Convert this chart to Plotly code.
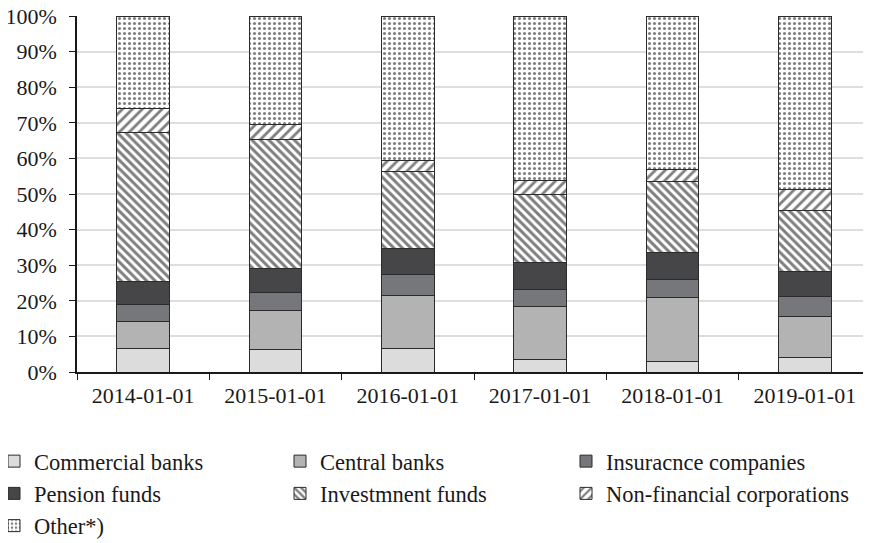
import plotly.graph_objects as go

categories = ["2014-01-01", "2015-01-01", "2016-01-01", "2017-01-01", "2018-01-01", "2019-01-01"]

# cumulative shares (%), bottom to top
cum_commercial = [6.5, 6.4, 6.6, 3.6, 3.0, 4.1]
cum_central = [14.1, 17.4, 21.6, 18.5, 21.0, 15.5]
cum_insurance = [19.0, 22.4, 27.4, 23.2, 26.0, 21.2]
cum_pension = [25.4, 29.1, 34.8, 30.7, 33.7, 28.2]
cum_investment = [67.4, 65.4, 56.3, 49.9, 53.5, 45.5]
cum_nonfin = [73.9, 69.4, 59.4, 53.7, 57.0, 51.4]
cum_other = [100, 100, 100, 100, 100, 100]

series_names = ["Commercial banks", "Central banks", "Insuracnce companies",
                "Pension funds", "Investmnent funds", "Non-financial corporations", "Other*)"]
cums = [cum_commercial, cum_central, cum_insurance, cum_pension, cum_investment, cum_nonfin, cum_other]

values = []
prev = [0] * len(categories)
for c in cums:
    values.append([round((a - b) / 100, 4) for a, b in zip(c, prev)])
    prev = c

fills = ["#dcdcdc", "#b3b3b3", "#76777a", "#464648", None, None, None]
patterns = [None, None, None, None,
            dict(shape="\\", fgcolor="#000000", bgcolor="white", size=6, solidity=0.5),
            dict(shape="/", fgcolor="#000000", bgcolor="white", size=7, solidity=0.4),
            dict(shape=".", fgcolor="#000000", bgcolor="white", size=5, solidity=0.3)]

fig = go.Figure()
for name, vals, fc, pat in zip(series_names, values, fills, patterns):
    marker = dict(line=dict(color="#2b2b2b", width=1))
    if pat is None:
        marker["color"] = fc
    else:
        marker["color"] = "white"
        marker["pattern"] = pat
    fig.add_trace(go.Bar(name=name, x=categories, y=vals, marker=marker))

font_family = "Liberation Serif"
# the page body has an 8px margin, so the figure is offset by 8px
W, H = 863, 535
L, T, B = 69, 8, 171
fig.update_layout(
    barmode="stack",
    bargap=0.6,
    width=W, height=H,
    margin=dict(l=L, r=0, t=T, b=B, autoexpand=False),
    paper_bgcolor="white", plot_bgcolor="white",
    font=dict(family=font_family, size=22, color="#1a1a1a"),
    xaxis=dict(type="category", showline=True, linecolor="#1a1a1a", linewidth=1.5,
               ticks="outside", tickson="boundaries", ticklen=6, tickcolor="#1a1a1a",
               tickfont=dict(family=font_family, size=22), showgrid=False, automargin=False,
               ticklabelstandoff=3),
    yaxis=dict(range=[0, 1], tickformat=".0%", dtick=0.1, showline=True,
               linecolor="#1a1a1a", linewidth=1.5, ticks="outside", ticklen=6,
               tickcolor="#1a1a1a", gridcolor="#dedede", gridwidth=2,
               tickfont=dict(family=font_family, size=22), zeroline=False, automargin=False,
               ticklabeloverflow="allow", ticklabelstandoff=8),
    legend=dict(orientation="h", xref="paper", yref="paper",
                x=-83 / (W - L), y=-68 / (H - T - B), xanchor="left", yanchor="top",
                entrywidth=241, entrywidthmode="pixels", itemwidth=30,
                font=dict(family=font_family, size=22.5), traceorder="normal", tracegroupgap=0),
)

fig.write_html("out.html")
